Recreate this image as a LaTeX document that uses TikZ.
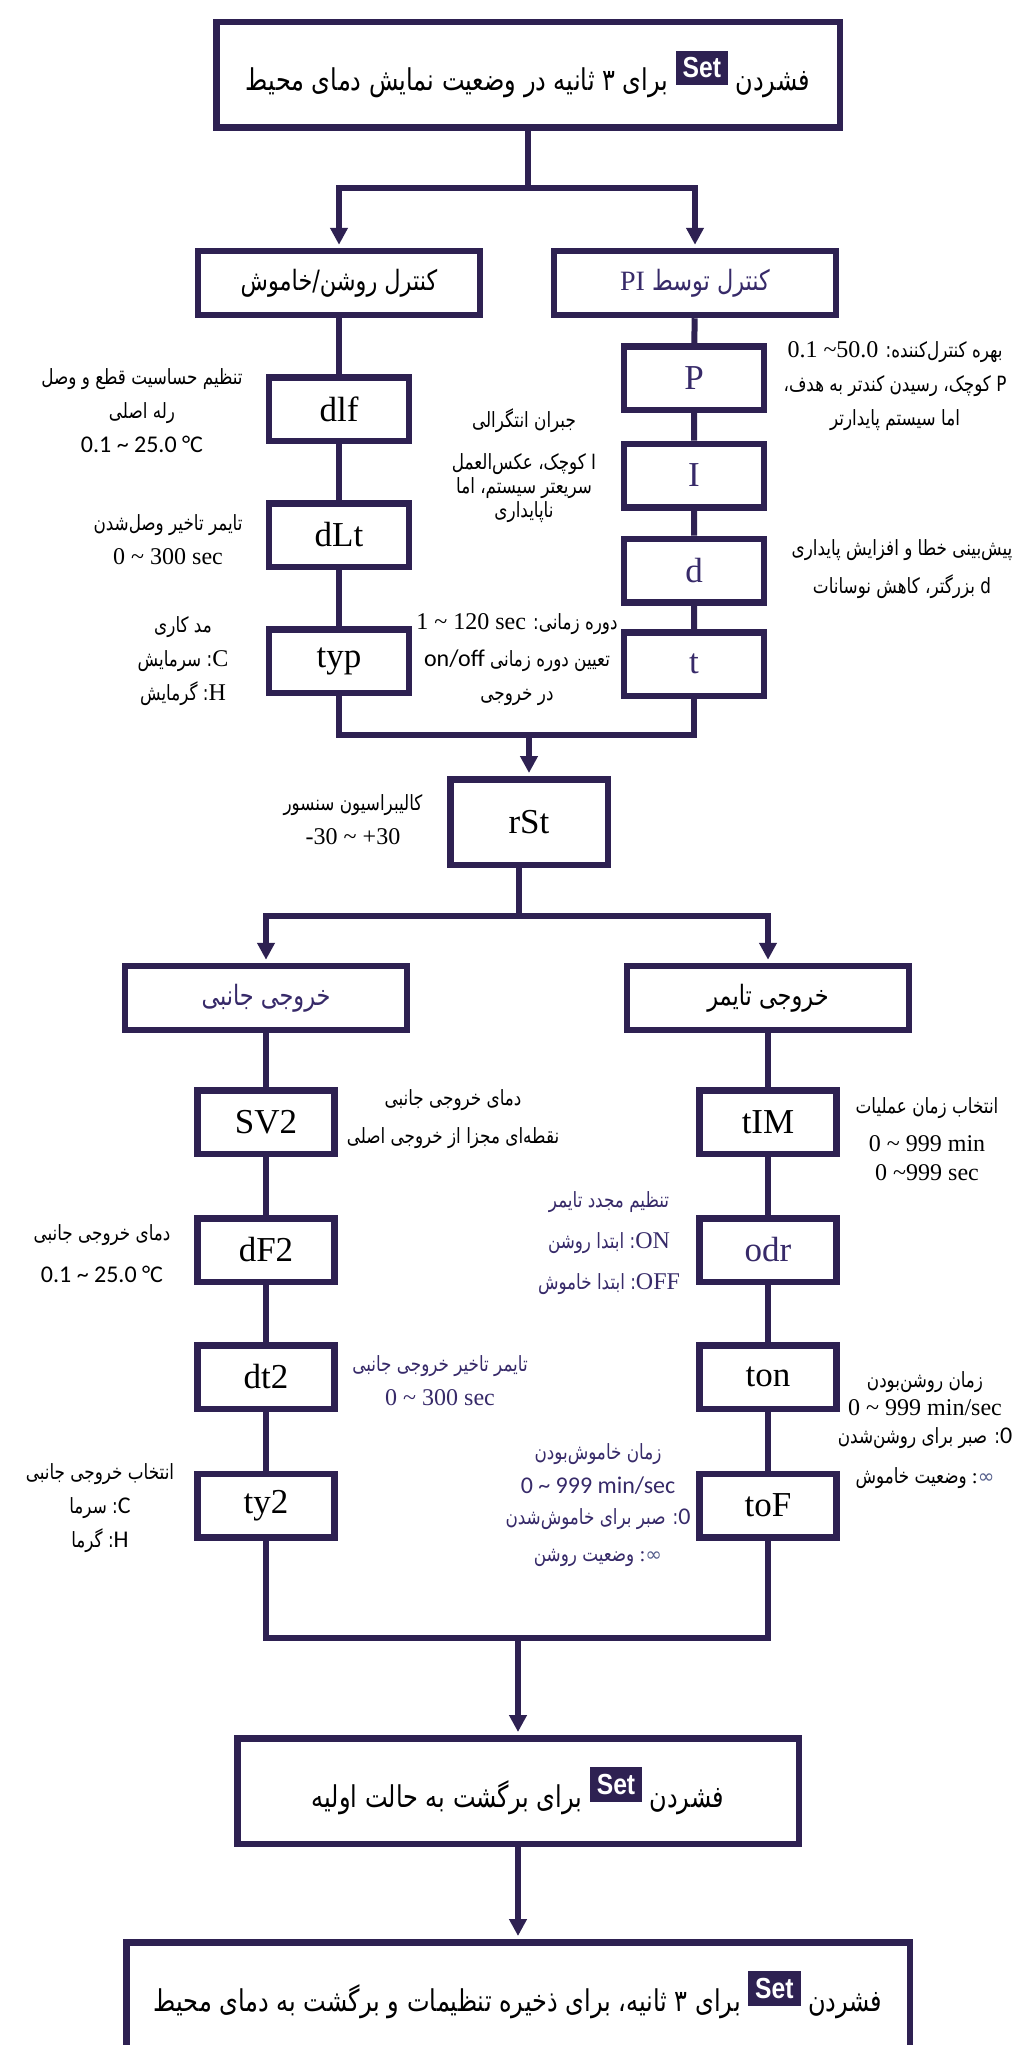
\documentclass[tikz,border=0pt]{standalone}
\usepackage{fontspec}
\setmainfont{Liberation Serif}
\newfontfamily\fafont[Script=Arabic,FakeStretch=0.8]{DejaVu Sans}
\newfontfamily\titlefont[Script=Arabic,FakeStretch=0.8]{DejaVu Sans}
\newfontfamily\calib{Carlito}
\newfontfamily\lsr{Liberation Serif}
\newfontfamily\keyfont[FakeStretch=0.85]{Liberation Sans}
\newfontfamily\symfont{DejaVu Sans}
\TeXXeTstate=1
\usetikzlibrary{arrows.meta}
\definecolor{navy}{RGB}{46,33,82}
\definecolor{purp}{RGB}{55,42,105}
\definecolor{infclr}{RGB}{85,95,140}
\newcommand{\fa}[1]{{\fafont\beginR #1\endR}}
\newcommand{\boxfa}[1]{{\titlefont\beginR #1\endR}}
\newcommand{\lrun}[1]{\beginL #1\endL}
\newcommand{\tnum}[1]{{\lsr\fontsize{24}{34}\selectfont #1}}
\newcommand{\calnum}[1]{{\calib\fontsize{24}{34}\selectfont #1}}
\newcommand{\setkey}{\raisebox{13pt}{\setlength{\fboxsep}{7pt}\colorbox{navy}{\keyfont\bfseries\fontsize{29}{30}\selectfont\color{white}Set}}}
\newcommand{\infsym}{\mbox{{\symfont\fontsize{20}{20}\selectfont\color{infclr}∞}}}

\begin{document}
\begin{tikzpicture}[x=1pt,y=-1pt,
  box/.style={draw=navy,line width=6.5pt,inner sep=0pt,minimum width=140pt,minimum height=63.5pt,font=\fontsize{35}{40}\selectfont},
  head/.style={box,minimum width=282pt,minimum height=64pt,font=\fontsize{28}{32}\selectfont},
  big/.style={box,minimum height=105.5pt,font=\fontsize{30}{34}\selectfont},
  note/.style={align=center,inner sep=0pt,font=\fontsize{21}{34}\selectfont},
  link/.style={draw=navy,line width=6pt},
  arr/.style={link,-{Triangle[length=17pt,width=17pt]},shorten >=3pt}]
\useasboundingbox (0,0) rectangle (1021,2045);
\fill[white] (0,0) rectangle (1021,2045);
\clip (0,0) rectangle (1021,2045);

\node[big,minimum width=623.5pt] (start) at (528,74.5) {\boxfa{برای ۳ ثانیه در وضعیت نمایش دمای محیط}\ \setkey\ \boxfa{فشردن}};
\node[head] (onoff) at (339,283) {\boxfa{کنترل روشن/خاموش}};
\node[head,text=purp] (pi) at (695,283) {\boxfa{کنترل توسط \lrun{\lsr PI}}};

\node[box] (dlf) at (339,409) {dlf};
\node[box] (dLt) at (339,535) {dLt};
\node[box] (typ) at (339,661) {typ};

\node[box,text=purp] (P) at (694,378) {P};
\node[box,text=purp] (I) at (694,475.5) {I};
\node[box,text=purp] (d) at (694,570.5) {d};
\node[box,text=purp] (t) at (694,664) {t};

\node[box,minimum width=157.5pt,minimum height=85.5pt] (rst) at (529,822) {rSt};

\node[head,text=purp] (side) at (266,998) {\boxfa{خروجی جانبی}};
\node[head] (timer) at (768,998) {\boxfa{خروجی تایمر}};

\node[box,minimum width=137pt] (sv2) at (266,1122) {SV2};
\node[box,minimum width=137pt] (df2) at (266,1250) {dF2};
\node[box,minimum width=137pt] (dt2) at (266,1377) {dt2};
\node[box,minimum width=137pt] (ty2) at (266,1505.5) {ty2};

\node[box,minimum width=137pt] (tim) at (768,1122) {tIM};
\node[box,minimum width=137pt,text=purp] (odr) at (768,1250) {odr};
\node[box,minimum width=137pt] (ton) at (768,1377) {ton};
\node[box,minimum width=137pt] (tof) at (768,1505.5) {toF};

\node[big,minimum width=561.5pt] (back) at (518,1791) {\boxfa{برای برگشت به حالت اولیه}\ \setkey\ \boxfa{فشردن}};
\node[big,minimum width=783.5pt] (save) at (518,1995) {\boxfa{برای ۳ ثانیه، برای ذخیره تنظیمات و برگشت به دمای محیط}\ \setkey\ \boxfa{فشردن}};

% side notes
\node[note] (dlfnote) at (142,411) {\fa{تنظیم حساسیت قطع و وصل}\\\fa{رله اصلی}\\\calnum{0.1 \textasciitilde{} 25.0 °C}};
\node[note] (dltnote) at (168,539.5) {\fa{تایمر تاخیر وصل‌شدن}\\\tnum{0 \textasciitilde{} 300 sec}};
\node[note] (typnote) at (183,661) {\fa{مد کاری}\\\fa{{\lsr\fontsize{24}{34}\selectfont C}: سرمایش}\\\fa{{\lsr\fontsize{24}{34}\selectfont H}: گرمایش}};
\node[note] (pnote) at (895,386.5) {\fa{بهره کنترل‌کننده: \lrun{\tnum{0.1 \textasciitilde50.0}}}\\\fa{P کوچک، رسیدن کندتر به هدف،}\\\fa{اما سیستم پایدارتر}};
\node[note] (inote) at (524,466) {\fa{جبران انتگرالی}\\[8pt]\fa{I کوچک، عکس‌العمل}\\[-10pt]\fa{سریعتر سیستم، اما}\\[-10pt]\fa{ناپایداری}};
\node[note] (dnote) at (902,569) {\fa{پیش‌بینی خطا و افزایش پایداری}\\[4pt]\fa{d بزرگتر، کاهش نوسانات}};
\node[note] (tnote) at (517,660) {\fa{دوره زمانی: \lrun{\tnum{1 \textasciitilde{} 120 sec}}}\\[3pt]\fa{تعیین دوره زمانی \lrun{\calnum{on/off}}}\\\fa{در خروجی}};
\node[note] (rstnote) at (353,819.5) {\fa{کالیبراسیون سنسور}\\\tnum{-30 \textasciitilde{} +30}};

\node[note] (sv2note) at (453,1119) {\fa{دمای خروجی جانبی}\\[4pt]\fa{نقطه‌ای مجزا از خروجی اصلی}};
\node[note] (df2note) at (102,1254) {\fa{دمای خروجی جانبی}\\[8pt]\calnum{0.1 \textasciitilde{} 25.0 °C}};
\node[note,text=purp] (dt2note) at (440,1380.5) {\fa{تایمر تاخیر خروجی جانبی}\\\tnum{0 \textasciitilde{} 300 sec}};
\node[note] (ty2note) at (100,1508.5) {\fa{انتخاب خروجی جانبی}\\\fa{{\calib\fontsize{24}{34}\selectfont C}: سرما}\\\fa{{\calib\fontsize{24}{34}\selectfont H}: گرما}};

\node[note] (timnote) at (927,1139.5) {\fa{انتخاب زمان عملیات}\\[4pt]\tnum{0 \textasciitilde{} 999 min}\\[-5pt]\tnum{0 \textasciitilde999 sec}};
\node[note,text=purp] (odrnote) at (609,1243.5) {\fa{تنظیم مجدد تایمر}\\[7pt]\fa{\lrun{\tnum{ON}}: ابتدا روشن}\\[7pt]\fa{\lrun{\tnum{OFF}}: ابتدا خاموش}};
\node[note] (tonnote) at (925,1430) {\fa{زمان روشن‌بودن}\\[-6pt]\tnum{0 \textasciitilde{} 999 min/sec}\\[-6pt]\fa{{\calib\fontsize{24}{34}\selectfont 0}: صبر برای روشن‌شدن}\\[6pt]\fa{وضعیت خاموش} :\infsym};
\node[note,text=purp] (tofnote) at (598,1505.5) {\fa{زمان خاموش‌بودن}\\\calnum{0 \textasciitilde{} 999 min/sec}\\[-3pt]\fa{{\calib\fontsize{24}{34}\selectfont 0}: صبر برای خاموش‌شدن}\\[3pt]\fa{وضعیت روشن} :\infsym};

% connectors
\coordinate (split1) at (528,188);
\draw[link] (start.south) -- (split1);
\draw[arr] (split1) -| (onoff.north);
\draw[arr] (split1) -| (pi.north);
\draw[link] (onoff) -- (dlf) -- (dLt) -- (typ);
\draw[link] (pi) -- (P) -- (I) -- (d) -- (t);

\coordinate (join1) at (529,735);
\draw[link] (typ.south) |- (join1);
\draw[link] (t.south) |- (join1);
\draw[arr] (join1) -- (rst.north);

\coordinate (split2) at (519,916);
\draw[link] (split2 |- rst.south) -- (split2);
\draw[arr] (split2) -| (side.north);
\draw[arr] (split2) -| (timer.north);
\draw[link] (side) -- (sv2) -- (df2) -- (dt2) -- (ty2);
\draw[link] (timer) -- (tim) -- (odr) -- (ton) -- (tof);

\coordinate (join2) at (518,1638);
\draw[link] (ty2.south) |- (join2);
\draw[link] (tof.south) |- (join2);
\draw[arr] (join2) -- (back.north);
\draw[arr] (back.south) -- (save.north);
\end{tikzpicture}
\end{document}
